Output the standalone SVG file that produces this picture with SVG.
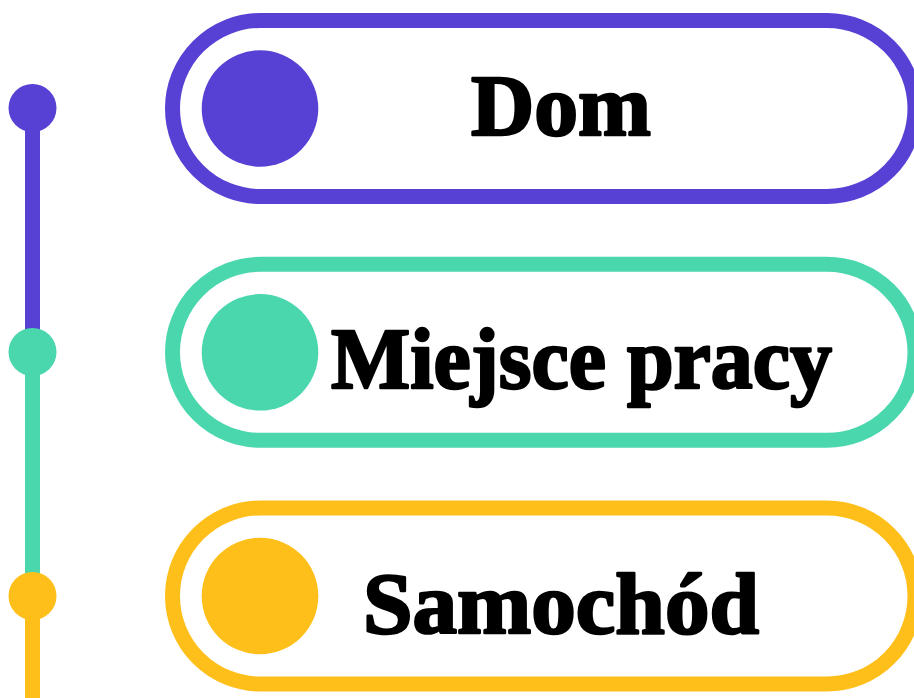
<svg xmlns="http://www.w3.org/2000/svg" width="914" height="698" viewBox="0 0 914 698">
<style>
.pill{fill:#fff;stroke-width:15}
.lbl{font-family:"Liberation Serif","DejaVu Serif",serif;font-weight:bold;font-size:86px;fill:#000;stroke:#000;stroke-width:2.5;stroke-linejoin:round;text-anchor:middle}
</style>
<rect width="914" height="698" fill="#fff"/>
<g id="connectors">
<line x1="32.5" y1="108" x2="32.5" y2="352" stroke="#5741D5" stroke-width="15"/>
<line x1="32.5" y1="352" x2="32.5" y2="596" stroke="#4BD7AE" stroke-width="15"/>
<line x1="32.5" y1="596" x2="32.5" y2="698" stroke="#FFBF1A" stroke-width="15"/>
</g>
<g id="node-dom">
<circle cx="32.5" cy="108" r="24" fill="#5741D5"/>
<rect class="pill" x="172.5" y="20.5" width="742.5" height="176" rx="88" stroke="#5741D5"/>
<circle cx="260" cy="108.5" r="58.3" fill="#5741D5"/>
<text class="lbl" x="561" y="135" textLength="180" lengthAdjust="spacingAndGlyphs">Dom</text>
</g>
<g id="node-miejsce">
<circle cx="32.5" cy="352" r="24" fill="#4BD7AE"/>
<rect class="pill" x="172.5" y="264.3" width="742.5" height="176" rx="88" stroke="#4BD7AE"/>
<circle cx="260" cy="352.3" r="58.3" fill="#4BD7AE"/>
<text class="lbl" x="581.5" y="388" textLength="501" lengthAdjust="spacingAndGlyphs">Miejsce pracy</text>
</g>
<g id="node-samochod">
<circle cx="32.5" cy="596" r="24" fill="#FFBF1A"/>
<rect class="pill" x="172.5" y="508" width="742.5" height="176" rx="88" stroke="#FFBF1A"/>
<circle cx="260" cy="596" r="58.3" fill="#FFBF1A"/>
<text class="lbl" x="561" y="633" textLength="396" lengthAdjust="spacingAndGlyphs">Samochód</text>
</g>
</svg>
